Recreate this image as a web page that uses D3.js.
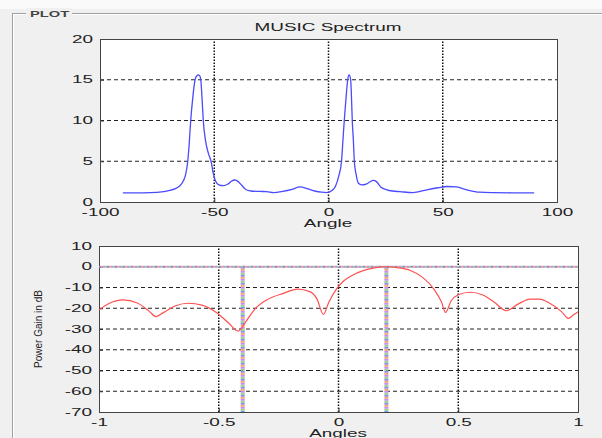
<!DOCTYPE html>
<html>
<head>
<meta charset="utf-8">
<script src="https://cdn.jsdelivr.net/npm/d3@7"></script>
<style>
  body { margin: 0; background: #f0f0f0; }
  svg { display: block; font-family: "Liberation Sans", Arial, sans-serif; }
</style>
</head>
<body>
<svg id="chart" width="602" height="438"></svg>
<script>
// MUSIC spectrum, [angle, value]
var musicSpectrum = [
  [-90,1.12],[-84,1.12],[-78,1.15],[-73,1.25],[-70,1.4],[-67,1.65],[-65,2.0],[-63.5,2.6],
  [-62.5,3.4],[-61.6,5],[-61,7],[-60.3,10],[-59.5,12.5],[-58.4,15],[-57.6,15.5],[-57,15.6],
  [-56.4,15.5],[-55.9,15],[-55.3,12.5],[-54.8,10],[-53.8,7.5],[-52.5,5.9],[-51.4,5],[-50.5,3.6],
  [-49.5,2.6],[-48,2.1],[-46,2.0],[-44,2.2],[-42.5,2.55],[-41,2.7],[-39.5,2.5],[-38,2.05],
  [-36,1.5],[-34,1.35],[-30,1.3],[-27,1.27],[-24,1.15],[-20,1.3],[-16,1.55],[-12.5,1.85],
  [-9,1.6],[-6,1.35],[-3,1.2],[-0.8,1.15],[1.5,1.4],[3,1.9],[4.5,3.2],[5.7,5],[6.3,7.5],
  [6.9,10],[7.6,12.5],[8.4,15],[9,15.6],[9.7,15],[10.1,12.5],[10.4,10],[10.9,7.5],[11.3,5],
  [12,3.5],[13.1,2.3],[14.5,2.1],[16.5,2.2],[18,2.45],[19.6,2.65],[21,2.5],[23,1.8],[25.5,1.5],
  [28,1.35],[31.3,1.27],[37,1.15],[43,1.5],[48,1.75],[52,1.9],[56,1.85],[60.5,1.5],[66,1.2],
  [72,1.15],[80,1.13],[90,1.13]
];
var musicXTicks = [-100, -50, 0, 50, 100];
var musicYTicks = [0, 5, 10, 15, 20];

// beam pattern, [angle, gain dB]
var beamPattern = [
  [-1,-20.8],[-0.96,-17.8],[-0.9,-16.0],[-0.84,-17.5],[-0.79,-21.5],[-0.762,-24],[-0.73,-22],
  [-0.68,-18.8],[-0.627,-17.6],[-0.57,-18.5],[-0.51,-22],[-0.46,-27],[-0.418,-31],[-0.39,-27],
  [-0.35,-20.5],[-0.3,-16],[-0.23,-12.8],[-0.17,-10.8],[-0.12,-12],[-0.09,-15.5],[-0.063,-23],
  [-0.04,-17],[-0.01,-11],[0.02,-7],[0.06,-4],[0.1,-2],[0.15,-0.5],[0.2,0],[0.25,-0.5],
  [0.3,-1.8],[0.35,-5],[0.4,-11],[0.43,-17],[0.447,-22],[0.47,-16.5],[0.5,-13.5],[0.55,-12.3],
  [0.6,-13.5],[0.65,-17],[0.7,-21.2],[0.75,-18],[0.8,-15.6],[0.84,-15.6],[0.88,-17.5],
  [0.93,-21.5],[0.96,-24.9],[0.98,-23.3],[1,-21.7]
];
var sourceAngles = [-0.4, 0.2];
var beamXTicks = [-1, -0.5, 0, 0.5, 1];
var beamYTicks = [10, 0, -10, -20, -30, -40, -50, -60, -70];

var svg = d3.select("#chart");
var SX = 1.8; // the screenshot text is stretched sideways

// panel frame
svg.append("rect").attr("width", 602).attr("height", 9).attr("fill", "#fafafa");
svg.append("line").attr("x1", 12).attr("x2", 602).attr("y1", 13.5).attr("y2", 13.5).attr("stroke", "#a0a0a0");
svg.append("line").attr("x1", 13).attr("x2", 602).attr("y1", 14.5).attr("y2", 14.5).attr("stroke", "#fff");
svg.append("line").attr("x1", 12.5).attr("x2", 12.5).attr("y1", 13).attr("y2", 438).attr("stroke", "#a0a0a0");
svg.append("line").attr("x1", 13.5).attr("x2", 13.5).attr("y1", 14).attr("y2", 438).attr("stroke", "#fff");
svg.append("rect").attr("x", 26).attr("y", 8).attr("width", 46).attr("height", 12).attr("fill", "#f0f0f0");
svg.append("text").attr("transform", "translate(30,17) scale(1.55,1)")
  .style("font-size", "9.5px").style("font-weight", "bold").attr("fill", "#444").text("PLOT");

function drawAxes(g, x, y, xTicks, yTicks, xGrid, yGrid) {
  var x0 = x.range()[0], x1 = x.range()[1], y0 = y.range()[0], y1 = y.range()[1];
  g.append("rect").attr("x", x0).attr("y", y1).attr("width", x1 - x0).attr("height", y0 - y1).attr("fill", "#fff");

  g.selectAll(".hgrid").data(yGrid).enter().append("line")
    .attr("x1", x0).attr("x2", x1).attr("y1", function(d) { return y(d); }).attr("y2", function(d) { return y(d); })
    .attr("stroke", "#222").attr("stroke-dasharray", "4,3");
  g.selectAll(".vgrid").data(xGrid).enter().append("line")
    .attr("x1", function(d) { return x(d); }).attr("x2", function(d) { return x(d); }).attr("y1", y0).attr("y2", y1)
    .attr("stroke", "#111").attr("stroke-width", 1.5).attr("stroke-dasharray", "1.5,1.5");

  var fmt = function(d) { return String(d); };
  var xa = g.append("g").attr("transform", "translate(0," + y0 + ")")
    .call(d3.axisBottom(x).tickValues(xTicks).tickFormat(fmt).tickSize(-4).tickSizeOuter(0).tickPadding(5));
  var ya = g.append("g").attr("transform", "translate(" + x0 + ",0)")
    .call(d3.axisLeft(y).tickValues(yTicks).tickFormat(fmt).tickSize(-4).tickSizeOuter(0).tickPadding(7));
  [xa, ya].forEach(function(a) {
    a.select(".domain").remove();
    a.selectAll("line").attr("stroke", "#333");
    a.selectAll("text").style("font-size", "10.5px").attr("fill", "#222");
  });
  xa.selectAll("text").attr("transform", "scale(" + SX + ",1)").attr("dy", "0.85em");
  ya.selectAll("text").attr("x", -7 / SX).attr("dy", "0.3em").attr("transform", "scale(" + SX + ",1)");

  g.append("rect").attr("x", x0 + 0.5).attr("y", y1 + 0.5).attr("width", x1 - x0).attr("height", y0 - y1)
    .attr("fill", "none").attr("stroke", "#444");
}

// top: MUSIC spectrum
var x1 = d3.scaleLinear().domain([-100, 100]).range([100, 557]);
var y1 = d3.scaleLinear().domain([0, 20]).range([202, 39]);
var topG = svg.append("g");
drawAxes(topG, x1, y1, musicXTicks, musicYTicks, [-50, 0, 50], [5, 10, 15]);
topG.append("path").datum(musicSpectrum)
  .attr("d", d3.line().x(function(d) { return x1(d[0]); }).y(function(d) { return y1(d[1]); }).curve(d3.curveMonotoneX))
  .attr("fill", "none").attr("stroke", "#4a4aff").attr("stroke-width", 1.3);
topG.append("text").attr("transform", "translate(328,31) scale(" + SX + ",1)").attr("text-anchor", "middle")
  .style("font-size", "10.5px").attr("fill", "#222").text("MUSIC Spectrum");
topG.append("text").attr("transform", "translate(328,227) scale(" + SX + ",1)").attr("text-anchor", "middle")
  .style("font-size", "10.5px").attr("fill", "#222").text("Angle");

// bottom: power gain
var x2 = d3.scaleLinear().domain([-1, 1]).range([99, 578]);
var y2 = d3.scaleLinear().domain([-70, 10]).range([412, 246]);
var botG = svg.append("g");
drawAxes(botG, x2, y2, beamXTicks, beamYTicks, [-0.5, 0, 0.5], [0, -10, -20, -30, -40, -50, -60]);

// multi coloured marker lines
var stripe = ["#7a8cff", "#ffa860", "#c58cff", "#9ad08a"];
stripe.forEach(function(c, i) {
  botG.append("line").attr("x1", x2(-1)).attr("x2", x2(1)).attr("y1", y2(0)).attr("y2", y2(0))
    .attr("stroke", c).attr("stroke-width", 2).attr("stroke-dasharray", "2,6").attr("stroke-dashoffset", -2 * i);
  botG.selectAll(".src" + i).data(sourceAngles).enter().append("line")
    .attr("x1", function(d) { return x2(d); }).attr("x2", function(d) { return x2(d); })
    .attr("y1", y2(0)).attr("y2", y2(-70))
    .attr("stroke", c).attr("stroke-width", 4).attr("stroke-dasharray", "2,6").attr("stroke-dashoffset", -2 * i);
});

botG.append("path").datum(beamPattern)
  .attr("d", d3.line().x(function(d) { return x2(d[0]); }).y(function(d) { return y2(d[1]); }).curve(d3.curveMonotoneX))
  .attr("fill", "none").attr("stroke", "#ff5050").attr("stroke-width", 1.2);
botG.append("text").attr("transform", "translate(338,437) scale(" + SX + ",1)").attr("text-anchor", "middle")
  .style("font-size", "10.5px").attr("fill", "#222").text("Angles");
botG.append("text").attr("transform", "translate(42,329) rotate(-90)").attr("text-anchor", "middle")
  .style("font-size", "10px").attr("fill", "#222").text("Power Gain in dB");
</script>
</body>
</html>
